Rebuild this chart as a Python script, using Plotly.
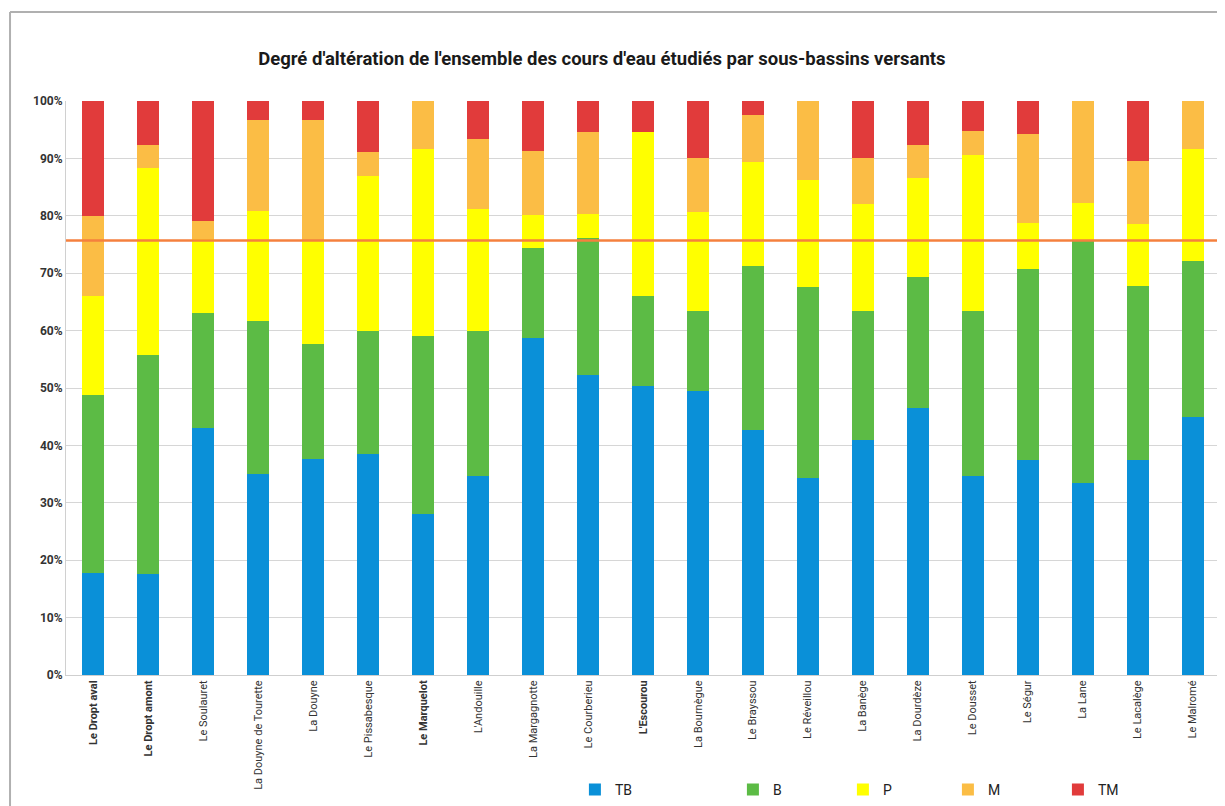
import plotly.graph_objects as go

categories = ["Le Dropt aval", "Le Dropt amont", "Le Soulauret", "La Douyne de Tourette",
              "La Douyne", "Le Pissabesque", "Le Marquelot", "L'Andouille", "La Margagnotte",
              "Le Courberieu", "L'Escourou", "La Bournègue", "Le Brayssou", "Le Réveillou",
              "La Banège", "La Dourdèze", "Le Dousset", "Le Ségur", "La Lane", "Le Lacalège",
              "Le Malromé"]
bold_categories = ["Le Dropt aval", "Le Dropt amont", "Le Marquelot", "L'Escourou"]

TB = [17.7, 17.6, 43.1, 35.0, 37.7, 38.5, 28.1, 34.6, 58.7, 52.3, 50.4, 49.5, 42.6, 34.4, 41.0, 46.6, 34.6, 37.5, 33.4, 37.5, 45.0]
B = [31.0, 38.1, 20.0, 26.6, 20.0, 21.5, 31.0, 25.4, 15.7, 23.8, 15.7, 13.9, 28.6, 33.2, 22.4, 22.8, 28.8, 33.3, 42.2, 30.2, 27.1]
P = [17.4, 32.6, 12.8, 19.3, 17.9, 27.0, 32.5, 21.1, 5.7, 4.2, 28.5, 17.3, 18.1, 18.7, 18.7, 17.2, 27.2, 7.9, 6.7, 10.9, 19.5]
M = [13.8, 4.1, 3.2, 15.8, 21.1, 4.2, 8.4, 12.3, 11.2, 14.3, 0, 9.4, 8.2, 13.7, 8.0, 5.7, 4.2, 15.6, 17.7, 11.0, 8.4]
TM = [20.1, 7.6, 20.9, 3.3, 3.3, 8.8, 0, 6.6, 8.7, 5.4, 5.4, 9.9, 2.5, 0, 9.9, 7.7, 5.2, 5.7, 0, 10.4, 0]

series_names = ["TB", "B", "P", "M", "TM"]
series_values = [TB, B, P, M, TM]
series_colors = ["#0a90d8", "#5cbb45", "#ffff00", "#fbbd45", "#e13b3b"]
legend_widths = [113, 65, 60, 65, 40]

threshold = 75.7
yticks = [0, 10, 20, 30, 40, 50, 60, 70, 80, 90, 100]

ticktext = [f"<b>{c}</b>" if c in bold_categories else c for c in categories]

fig = go.Figure()
for name, vals, col, lw in zip(series_names, series_values, series_colors, legend_widths):
    fig.add_trace(go.Bar(
        x=categories, y=vals, name=name, legendwidth=lw,
        marker=dict(color=col, line=dict(width=0)),
    ))

fig.add_shape(type="line", xref="paper", yref="y", x0=0, x1=1.003, y0=threshold, y1=threshold,
              line=dict(color="#f5803e", width=2.5))

# scanned page frame
fig.add_shape(type="line", xref="paper", yref="paper", x0=-0.0485, x1=1.01, y0=1.155, y1=1.155,
              line=dict(color="#b0b0b0", width=2))
fig.add_shape(type="line", xref="paper", yref="paper", x0=-0.0485, x1=-0.0485, y0=1.155, y1=-0.25,
              line=dict(color="#b0b0b0", width=2))

fig.update_layout(
    width=1217, height=798,
    barmode="stack", bargap=0.6,
    paper_bgcolor="white", plot_bgcolor="white",
    margin=dict(l=58, r=5, t=93, b=131, autoexpand=False),
    title=dict(text="<b>Degré d'altération de l'ensemble des cours d'eau étudiés par sous-bassins versants</b>",
               x=0.488, xanchor="center", y=0.937, yanchor="middle",
               font=dict(family="Roboto", size=18.5, color="#1a1a1a")),
    font=dict(family="Roboto", color="#333333"),
    legend=dict(orientation="h", x=0.441, xanchor="left", y=-0.2, yanchor="middle",
                font=dict(size=14, color="#222222"), traceorder="normal"),
    showlegend=True,
)
fig.update_xaxes(
    tickmode="array", tickvals=categories, ticktext=ticktext, tickangle=-90,
    tickfont=dict(size=11, color="#333333", family="Roboto"),
    showline=True, linecolor="#cfcfcf", linewidth=1, showgrid=False,
    ticks="", range=[-0.5, len(categories) - 0.5],
)
fig.update_yaxes(
    range=[0, 100], tickvals=yticks, ticktext=[f"<b>{v}%</b>" for v in yticks],
    tickfont=dict(size=12, color="#333333", family="Roboto"),
    showgrid=True, gridcolor="#d6d6d6", gridwidth=1, zeroline=False,
    showline=True, linecolor="#d0d0d0", ticks="", ticklen=0,
)

fig.write_html("out.html")
